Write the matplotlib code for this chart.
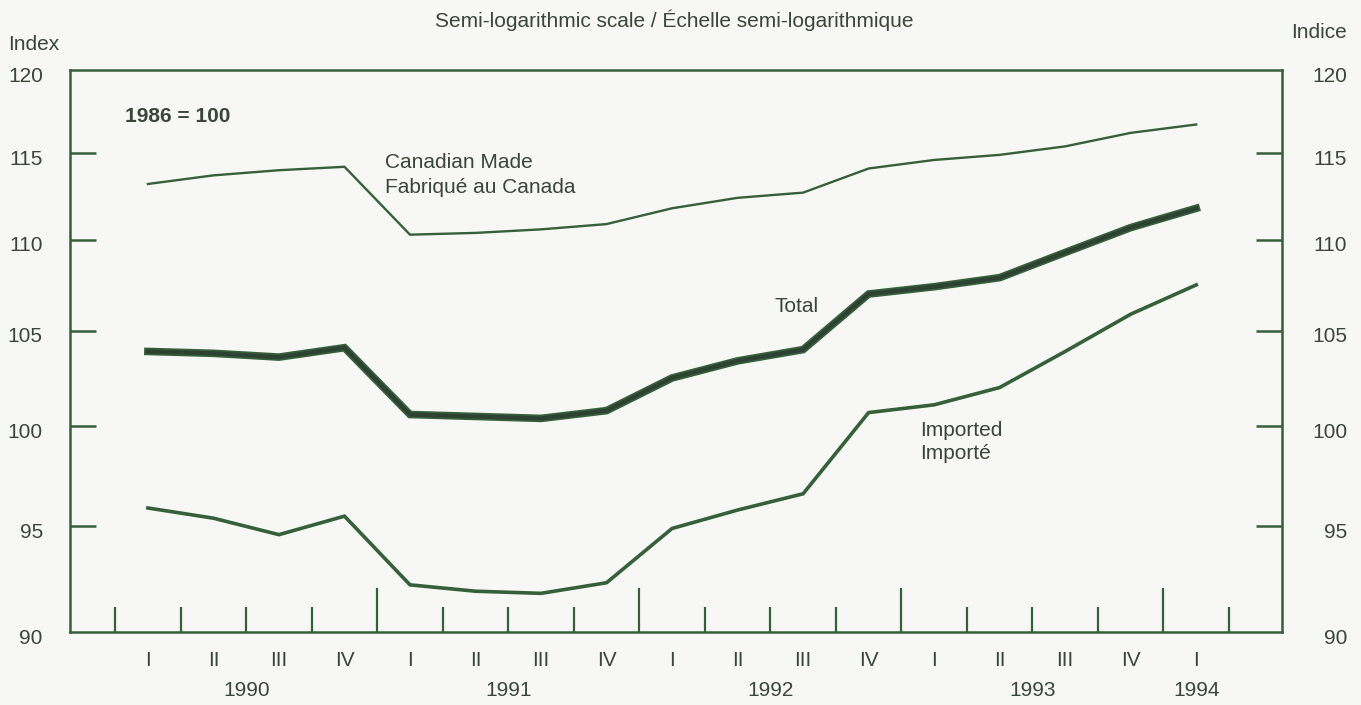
import numpy as np
import matplotlib
matplotlib.use("Agg")
import matplotlib.pyplot as plt
import matplotlib.transforms as mtransforms
from matplotlib.ticker import FixedLocator, NullFormatter, NullLocator

plt.rcParams['font.family'] = ['Liberation Sans', 'DejaVu Sans']

# quarterly index values, 1990 Q1 .. 1994 Q1 (1986 = 100)
quarters = ['I', 'II', 'III', 'IV'] * 4 + ['I']
years = ['1990', '1991', '1992', '1993', '1994']
canadian = [113.2, 113.7, 114.0, 114.2, 110.3, 110.4, 110.6, 110.9, 111.8,
            112.4, 112.7, 114.1, 114.6, 114.9, 115.4, 116.2, 116.7]
total = [103.9, 103.8, 103.6, 104.1, 100.6, 100.5, 100.4, 100.8, 102.5,
         103.4, 104.0, 107.0, 107.4, 107.9, 109.3, 110.7, 111.8]
imported = [95.9, 95.4, 94.6, 95.5, 92.2, 91.9, 91.8, 92.3, 94.9,
            95.8, 96.6, 100.7, 101.1, 102.0, 103.9, 105.9, 107.5]
yticks = [90, 95, 100, 105, 110, 115, 120]

line_col = '#36603a'
dark_col = '#2d4232'
text_col = '#3a453b'
bg = '#f7f7f5'
fs = 15

x = np.arange(len(quarters))

fig = plt.figure(figsize=(13.61, 7.05), dpi=100, facecolor=bg)
ax = fig.add_axes([0.0514, 0.1035, 0.8906, 0.7972], facecolor=bg)

ax.plot(x, canadian, color=line_col, lw=1.7, solid_joinstyle='miter')
ax.plot(x, imported, color=line_col, lw=2.6, solid_joinstyle='miter')
ax.plot(x, total, color=line_col, lw=5.5, solid_joinstyle='miter')
ax.plot(x, total, color=dark_col, lw=3.0, solid_joinstyle='miter')

ax.set_yscale('log')
ax.set_ylim(90, 120)
ax.set_xlim(-1.19, 17.31)

ax.yaxis.set_major_locator(FixedLocator(yticks))
ax.yaxis.set_minor_locator(NullLocator())
ax.set_yticklabels([str(v) for v in yticks])
ax.tick_params(axis='y', which='major', direction='in', length=19, width=1.8,
               color=line_col, left=True, right=True, labelleft=True,
               labelright=True, labelsize=fs, labelcolor=text_col, pad=19.5)
# right-hand labels are right-aligned in the original, labels sit a bit low
down = mtransforms.ScaledTranslation(0, -4 / 100, fig.dpi_scale_trans)
out = mtransforms.ScaledTranslation(38 / 100, -4 / 100, fig.dpi_scale_trans)
for t in ax.yaxis.get_major_ticks():
    t.label2.set_horizontalalignment('right')
    t.label2.set_transform(t.label2.get_transform() + out)
    t.label1.set_transform(t.label1.get_transform() + down)
    if t.get_loc() in (yticks[0], yticks[-1]):
        t.tick1line.set_visible(False)
        t.tick2line.set_visible(False)

# quarter boundary ticks, long ones at year boundaries
bounds = np.arange(len(quarters) + 1) - 0.5
year_b = [b for b in bounds if (b + 0.5) % 4 == 0 and 0 < b < len(quarters) - 1]
short_b = [b for b in bounds if b not in year_b]
ax.xaxis.set_major_locator(FixedLocator(year_b))
ax.xaxis.set_minor_locator(FixedLocator(short_b))
ax.xaxis.set_major_formatter(NullFormatter())
ax.xaxis.set_minor_formatter(NullFormatter())
ax.tick_params(axis='x', which='major', direction='in', length=32, width=1.6,
               color=line_col, top=False)
ax.tick_params(axis='x', which='minor', direction='in', length=18, width=1.6,
               color=line_col, top=False)

for s in ax.spines.values():
    s.set_color(line_col)
    s.set_linewidth(1.8)

trans = mtransforms.blended_transform_factory(ax.transData, ax.transAxes)
for xi, q in zip(x, quarters):
    ax.text(xi, -0.05, q, transform=trans, ha='center', va='center',
            fontsize=fs, color=text_col)
year_pos = [1.5, 5.5, 9.5, 13.5, 16]
for xp, yr in zip(year_pos, years):
    ax.text(xp, -0.104, yr, transform=trans, ha='center', va='center',
            fontsize=fs, color=text_col)

ax.text(-0.35, 117.2, '1986 = 100', fontsize=fs, fontweight='bold',
        color=text_col, va='center')
ax.text(3.62, 113.7, 'Canadian Made\nFabriqué au Canada', fontsize=fs,
        color=text_col, va='center', linespacing=1.4)
ax.text(9.57, 106.3, 'Total', fontsize=fs, color=text_col, va='center')
ax.text(11.79, 99.2, 'Imported\nImporté', fontsize=fs, color=text_col,
        va='center', linespacing=1.3)

fig.text(674 / 1361, 1 - 20 / 705, 'Semi-logarithmic scale / Échelle semi-logarithmique',
         ha='center', va='center', fontsize=fs, color=text_col)
fig.text(8 / 1361, 1 - 44 / 705, 'Index', ha='left', va='center',
         fontsize=fs, color=text_col)
fig.text(1347 / 1361, 1 - 32 / 705, 'Indice', ha='right', va='center',
         fontsize=fs, color=text_col)

fig.savefig('out.png', dpi=100, facecolor=bg)
